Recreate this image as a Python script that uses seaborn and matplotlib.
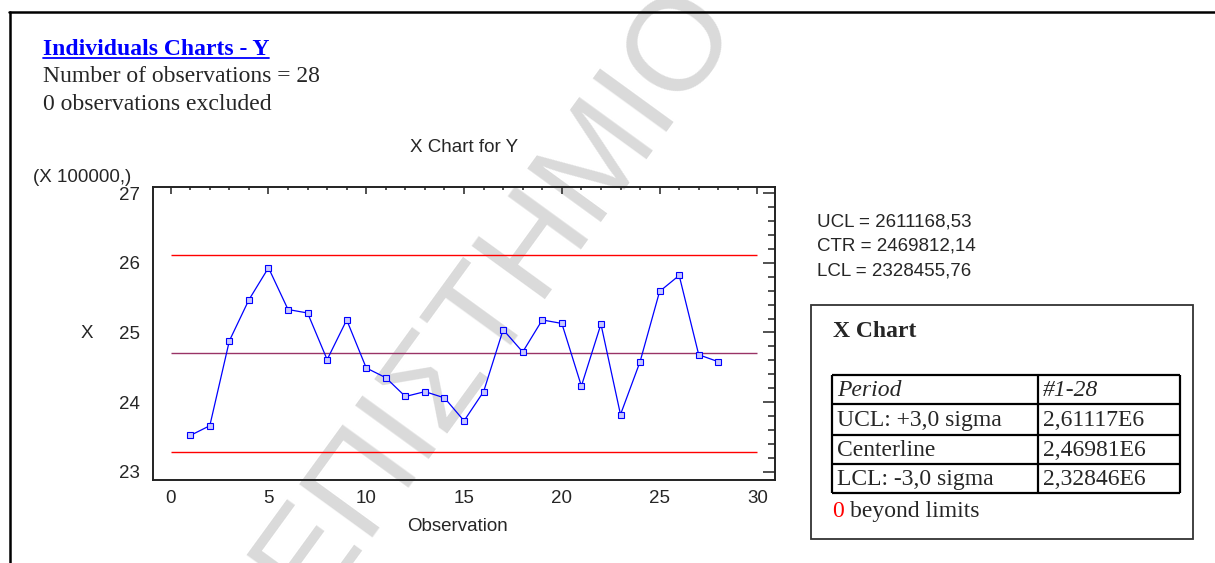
import numpy as np
import pandas as pd
import matplotlib
matplotlib.use('Agg')
import matplotlib.pyplot as plt
from matplotlib.ticker import MultipleLocator
from matplotlib.patches import Rectangle
import seaborn as sns

# readings, Y in units of 100000 (see the axis multiplier)
observation = list(range(1, 29))
y_value = [23.52, 23.66, 24.88, 25.47, 25.93, 25.33, 25.28, 24.61, 25.18, 24.49,
           24.35, 24.08, 24.15, 24.06, 23.73, 24.15, 25.04, 24.72, 25.18, 25.13,
           24.23, 25.12, 23.82, 24.58, 25.59, 25.82, 24.68, 24.58]
limit_names = ['UCL', 'CTR', 'LCL']
limit_values = [2611168.53, 2469812.14, 2328455.76]
scale = 100000
x_ticks = [0, 5, 10, 15, 20, 25, 30]
y_ticks = [23, 24, 25, 26, 27]
table_rows = ['Period', 'UCL: +3,0 sigma', 'Centerline', 'LCL: -3,0 sigma']
table_vals = ['#1-28'] + [('%.5fE6' % (v / 1e6)).replace('.', ',') for v in limit_values]
n_excluded = 0
n_beyond = 0

sns.set_style('white')
plt.rcParams['font.family'] = ['Liberation Sans', 'DejaVu Sans']
sans = ['Liberation Sans', 'DejaVu Sans']
serif = ['Liberation Serif', 'DejaVu Serif']
lab_fs = 13.5

W, H = 1215, 563
fig = plt.figure(figsize=(W / 100, H / 100), dpi=100)

# overlay in pixel coords for the report text, table and watermark
ov = fig.add_axes([0, 0, 1, 1], zorder=-1)
ov.set_xlim(0, W)
ov.set_ylim(H, 0)
ov.axis('off')

ax = fig.add_axes([152.7 / W, (H - 480) / H, 622.3 / W, 293.3 / H])
ax.patch.set_alpha(0)

df = pd.DataFrame({'Observation': observation, 'X': y_value})

lim_colors = ['#ff0000', '#993366', '#ff0000']
for v, c in zip(limit_values, lim_colors):
    ax.hlines(v / scale, x_ticks[0], x_ticks[-1], color=c, lw=1.0, zorder=2)

sns.lineplot(data=df, x='Observation', y='X', ax=ax, color='#0000ff', lw=0.9,
             marker='s', ms=3.8, mfc='#c8c8ff', mec='#0000ff', mew=0.8, zorder=3)

ax.set_xlim(-0.92, 30.9)
ax.set_ylim(22.88, 27.095)
ax.set_xticks(x_ticks)
ax.set_yticks(y_ticks)
ax.xaxis.set_minor_locator(MultipleLocator(1))
ax.yaxis.set_minor_locator(MultipleLocator(0.2))
ax.tick_params(which='both', direction='in', top=True, right=True, width=1.1,
               color='#222222', labelsize=13.5)
ax.tick_params(axis='y', which='major', length=8.8, pad=9)
ax.tick_params(axis='y', which='minor', length=5.2)
ax.tick_params(axis='x', which='major', length=5, pad=7)
ax.tick_params(axis='x', which='minor', length=2.5)
for s in ax.spines.values():
    s.set_linewidth(1.4)
    s.set_color('#222222')

ax.set_xlabel('Observation', family=sans, fontsize=lab_fs)
ax.xaxis.set_label_coords(0.49, -0.159)
ax.xaxis.label.set_va('center')
ax.set_ylabel('X', rotation=0, family=sans, fontsize=lab_fs, ha='center', va='center')
ax.yaxis.set_label_coords(-0.1056, 0.501)
ax.set_title('X Chart for Y', family=sans, fontsize=lab_fs, y=1.135, va='center', pad=0)
ax.text(-0.1136, 1.03, '(X %d,)' % scale, transform=ax.transAxes, ha='center',
        va='center', family=sans, fontsize=lab_fs)

# watermark
ov.text(710, -1, 'ΠΑΝΕΠΙΣΤΗΜΙΟ', rotation=54, rotation_mode='anchor', ha='right',
        va='center', fontsize=95, color='#dadada', family=sans, zorder=0)

# report frame
ov.plot([9, W], [12, 12], color='black', lw=1.8)
ov.plot([9.5, 9.5], [12, H], color='black', lw=1.8)

head = ov.text(43, 55, 'Individuals Charts - Y', family=serif, weight='bold',
               color='#0000ff', fontsize=17, va='baseline')
fig.canvas.draw()
bb = head.get_window_extent()
x0, x1 = ov.transData.inverted().transform([[bb.x0, 0], [bb.x1, 0]])[:, 0]
ov.plot([x0, x1], [58, 58], color='#0000ff', lw=1.3)
ov.text(43, 82, 'Number of observations = %d' % len(y_value), family=serif,
        fontsize=17, va='baseline')
ov.text(43, 110, '%d observations excluded' % n_excluded, family=serif,
        fontsize=17, va='baseline')

# limit summary
for i, (nm, v) in enumerate(zip(limit_names, limit_values)):
    ov.text(817, 226.7 + i * 24.2, '%s = %s' % (nm, ('%.2f' % v).replace('.', ',')),
            family=sans, fontsize=lab_fs, va='baseline')

# X Chart box
ov.add_patch(Rectangle((811, 305), 382, 234, fill=False, lw=1.3, ec='#333333'))
ov.text(833, 337, 'X Chart', family=serif, weight='bold', fontsize=17, va='baseline')
row_y = [375, 404.3, 435, 464, 493.3]
ov.hlines(row_y, 831.7, 1180, color='black', lw=1.6)
ov.vlines([831.7, 1038, 1180], row_y[0], row_y[-1], color='black', lw=1.6)
for i, (lab, val) in enumerate(zip(table_rows, table_vals)):
    yc = (row_y[i] + row_y[i + 1]) / 2 + 1
    st = 'italic' if i == 0 else 'normal'
    ov.text(837, yc, lab, family=serif, fontsize=17, style=st, va='center')
    ov.text(1043, yc, val, family=serif, fontsize=17, style=st, va='center')
ov.text(832, 516.7, '%d' % n_beyond, family=serif, fontsize=17, color='#ff0000', va='baseline')
ov.text(850, 516.7, 'beyond limits', family=serif, fontsize=17, va='baseline')

fig.savefig('out.png', dpi=100)
